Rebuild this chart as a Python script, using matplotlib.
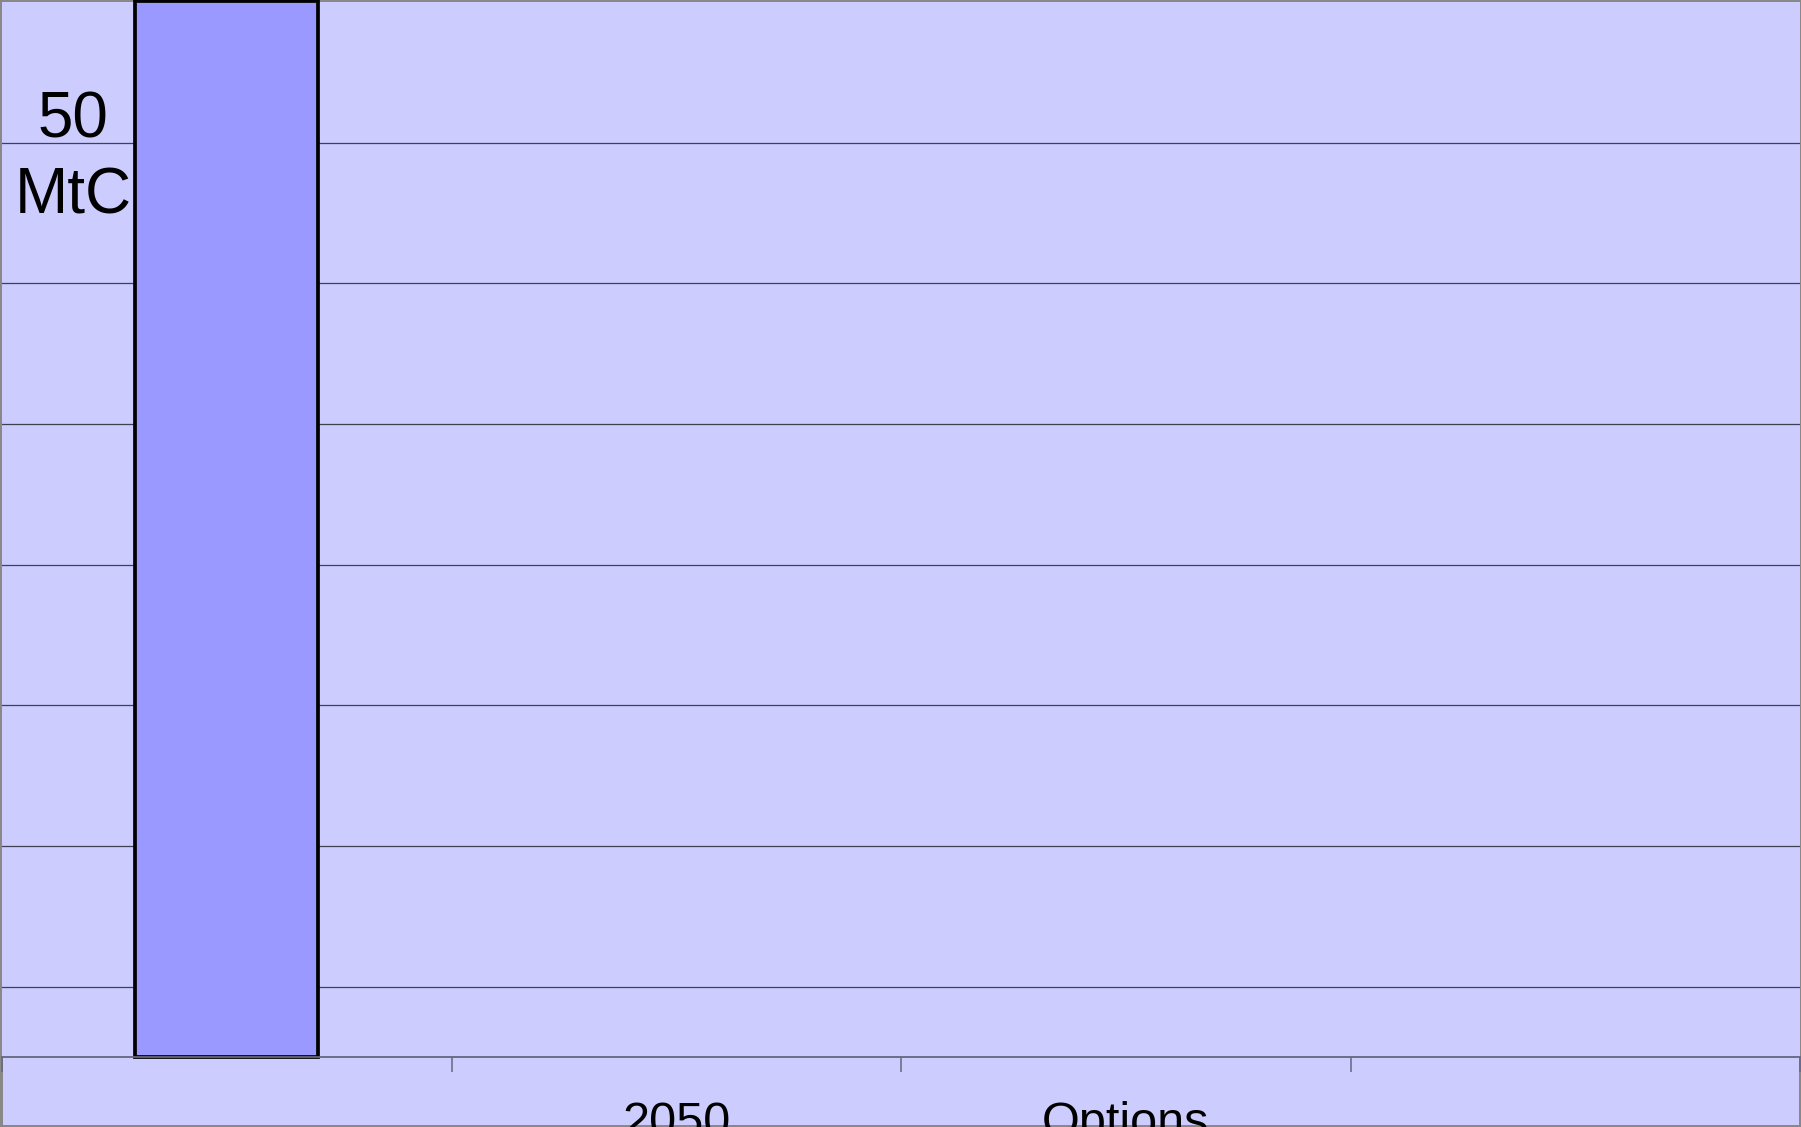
import numpy as np
import matplotlib
matplotlib.use('Agg')
import matplotlib.pyplot as plt
from matplotlib.patches import Rectangle

# categories along the x axis (first and last slots have no label)
categories = ['', '2050', 'Options', '']
values = [7.505, 0, 0, 0]          # only the first slot carries a bar
grid_levels = np.arange(0.5, 7.0, 1.0)
y_top = 7.5
scale_label = '50\nMtC'

plt.rcParams['font.family'] = ['Liberation Sans', 'DejaVu Sans']

bg = '#ccccff'
bar_col = '#9999ff'
axis_col = '#666680'

fig = plt.figure(figsize=(18.01, 11.27), dpi=100, facecolor=bg)
ax = fig.add_axes([2 / 1801, 70 / 1127, 1798 / 1801, 1055 / 1127])
ax.set_facecolor(bg)

x = np.arange(len(categories))
for xi, v in zip(x, values):
    if v > 0:
        ax.bar(xi, v, width=0.407, color=bar_col, edgecolor='black',
               linewidth=2.7, zorder=3, clip_on=False)

for g in grid_levels:
    ax.axhline(g, color='#404050', linewidth=0.9, zorder=1)

ax.set_xlim(-0.5, len(categories) - 0.5)
ax.set_ylim(0, y_top)

# ticks at category boundaries, labels at centres
ax.set_xticks(np.arange(-0.5, len(categories), 1.0))
ax.set_xticklabels([])
ax.set_xticks(x, minor=True)
ax.set_xticklabels(categories, minor=True, fontsize=35)
ax.tick_params(axis='x', which='major', direction='out', length=10.8,
               width=1.1, color=axis_col)
ax.tick_params(axis='x', which='minor', length=0, pad=31.5)
ax.set_yticks([])

for side in ['left', 'right', 'top']:
    ax.spines[side].set_visible(False)
ax.spines['bottom'].set_color(axis_col)
ax.spines['bottom'].set_linewidth(1.3)
ax.spines['bottom'].set_zorder(4)

ax.text(-0.342, 6.0, scale_label, fontsize=46, ha='center', va='baseline',
        linespacing=1.33, zorder=5)

fig.patches.append(Rectangle((0, 0), 1, 1, transform=fig.transFigure,
                             fill=False, edgecolor='#888888', linewidth=3.6,
                             zorder=-1))

fig.savefig('out.png', dpi=100, facecolor=bg)
